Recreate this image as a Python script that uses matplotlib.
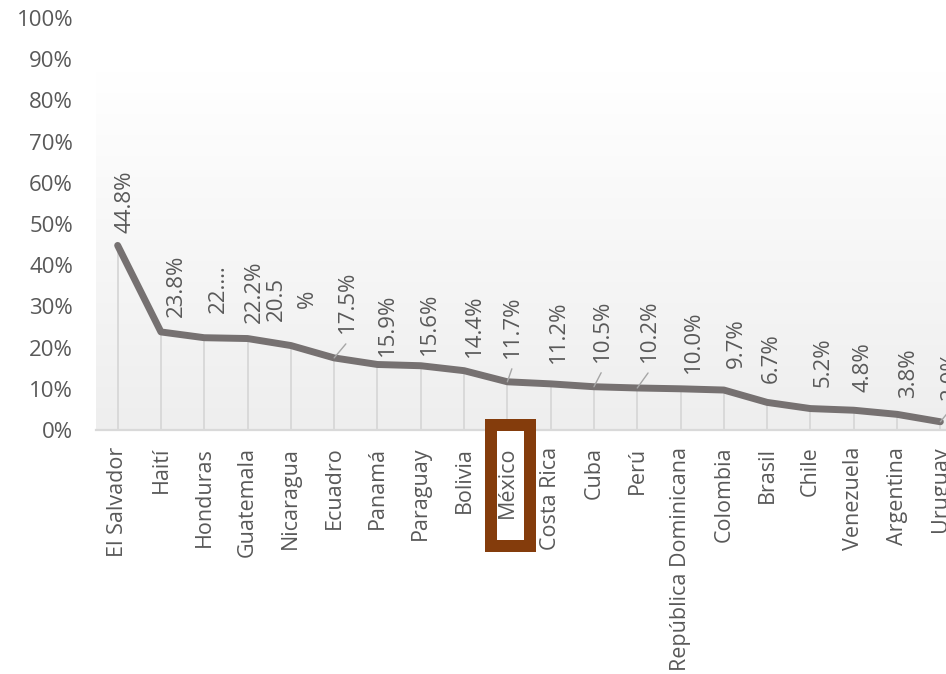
import matplotlib
matplotlib.use("Agg")
import matplotlib.pyplot as plt
import numpy as np
from matplotlib.patches import Rectangle
from matplotlib.ticker import FuncFormatter

plt.rcParams['font.family'] = ['Open Sans', 'DejaVu Sans']

# ---- data ----
countries = ["El Salvador", "Haití", "Honduras", "Guatemala", "Nicaragua", "Ecuadro",
             "Panamá", "Paraguay", "Bolivia", "México", "Costa Rica", "Cuba", "Perú",
             "República Dominicana", "Colombia", "Brasil", "Chile", "Venezuela",
             "Argentina", "Uruguay"]
values = [44.8, 23.8, 22.4, 22.2, 20.5, 17.5, 15.9, 15.6, 14.4, 11.7, 11.2, 10.5, 10.2,
          10.0, 9.7, 6.7, 5.2, 4.8, 3.8, 2.0]
value_labels = ["44.8%", "23.8%", "22.…", "22.2%", "20.5\n%", "17.5%", "15.9%", "15.6%",
                "14.4%", "11.7%", "11.2%", "10.5%", "10.2%", "10.0%", "9.7%", "6.7%",
                "5.2%", "4.8%", "3.8%", "2.0%"]
y_ticks = [0, 10, 20, 30, 40, 50, 60, 70, 80, 90, 100]
highlight = "México"

# ---- layout (label offsets in pixels: dx right, dy up from point to label bottom) ----
label_dx = [7, 15, 14, 7, 1, 13, 10, 9, 10, 5, 8, 8, 12, 13, 13, 4, 13, 9, 12, 10]
label_dy = [12, 15, 25, 16, 25, 25, 8, 11, 14, 24, 21, 25, 26, 16, 22, 19, 22, 18, 16, 22]
leaders = {"Ecuadro", "México", "Cuba", "Perú", "Uruguay"}

W, H, DPI = 946, 674, 100
PX = 72.0 / DPI  # px -> points

fig = plt.figure(figsize=(W / DPI, H / DPI), dpi=DPI)
ax_left, ax_right = 96 / W, 962 / W
ax_bottom, ax_top = 1 - 430 / H, 1 - 18 / H
ax = fig.add_axes([ax_left, ax_bottom, ax_right - ax_left, ax_top - ax_bottom])
ax.set_facecolor("none")

n = len(countries)
x = np.arange(n)
ax.set_xlim(-0.5, n - 0.5)
ax.set_ylim(0, 100)

# gradient background of plot area
grad = np.linspace(0, 1, 256).reshape(-1, 1)
top_c = np.array([1.0, 1.0, 1.0])
bot_c = np.array([0xEE, 0xEE, 0xEE]) / 255.0
img = top_c[None, None, :] * (1 - grad[:, :, None]) + bot_c[None, None, :] * grad[:, :, None]
ax.imshow(img, extent=(-0.5, n - 0.5, 0, 86.9), aspect="auto", origin="upper", zorder=0,
          interpolation="bilinear")

# drop lines
ax.vlines(x, 0, values, colors="#d9d9d9", linewidth=1.4, zorder=1)

# main line
ax.plot(x, values, color="#767171", linewidth=5.0, solid_capstyle="round",
        solid_joinstyle="round", zorder=3)

# data labels
for i, (v, lab) in enumerate(zip(values, value_labels)):
    dx, dy = label_dx[i] * PX, label_dy[i] * PX
    ax.annotate(lab, xy=(i, v), xytext=(dx, dy), textcoords="offset points",
                rotation=90, ha="center", va="bottom", fontsize=16, color="#595959",
                multialignment="center", linespacing=1.6, annotation_clip=False, zorder=4)
    if countries[i] in leaders:
        ax.annotate("", xy=(i, v), xytext=(dx * 0.9, (label_dy[i] - 11) * PX),
                    textcoords="offset points",
                    arrowprops=dict(arrowstyle="-", color="#a6a6a6", lw=1.0,
                                    shrinkA=0, shrinkB=0),
                    annotation_clip=False, zorder=4)

# axes styling
for s in ["top", "right", "left"]:
    ax.spines[s].set_visible(False)
ax.spines["bottom"].set_color("#d9d9d9")
ax.spines["bottom"].set_linewidth(1.6)
ax.spines["bottom"].set_zorder(2)

ax.set_yticks(y_ticks)
ax.yaxis.set_major_formatter(FuncFormatter(lambda v, p: f"{int(v)}%"))
ax.tick_params(axis="y", length=0, pad=16.5, labelsize=16, labelcolor="#595959")
ax.set_xticks(x)
ax.set_xticklabels(countries, rotation=90, fontsize=15.5, color="#595959")
ax.tick_params(axis="x", length=0, pad=12)
ax.xaxis.set_zorder(6)

# highlight box around México label
rect = Rectangle((491 / W, 1 - 546 / H), 39 / W, (546 - 425) / H, transform=fig.transFigure,
                 facecolor="white", edgecolor="#843C0C", linewidth=12 * PX,
                 clip_on=False, zorder=5)
ax.add_patch(rect)

fig.savefig("out.png", dpi=DPI)
